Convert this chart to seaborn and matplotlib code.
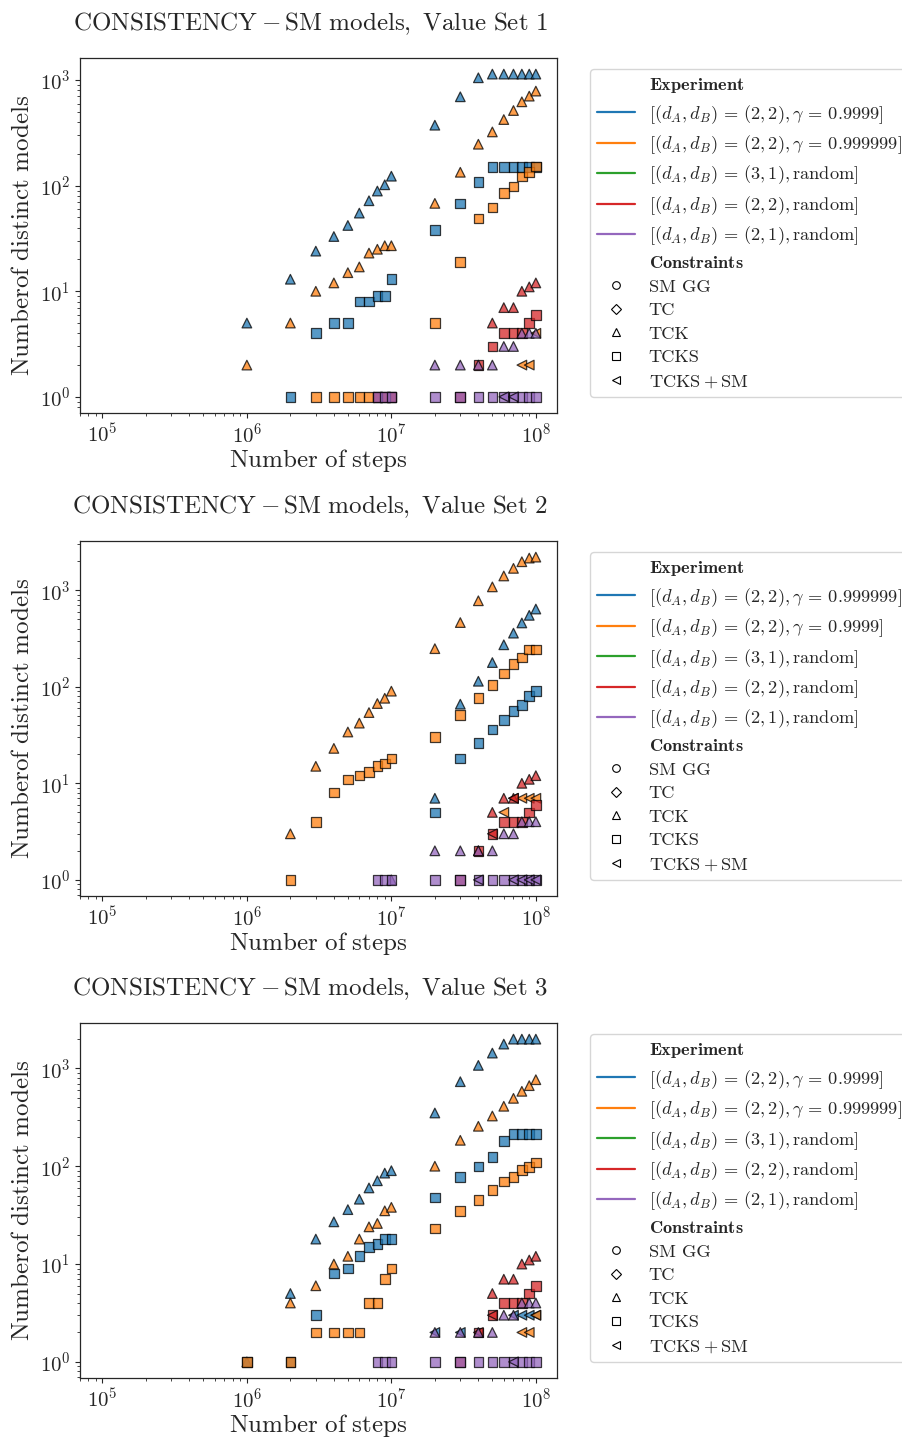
import numpy as np
import pandas as pd
import matplotlib
matplotlib.use("Agg")
import matplotlib.pyplot as plt
from matplotlib.lines import Line2D
import seaborn as sns

N = np.nan

# ---------------- data ----------------
STEPS = [1e6, 2e6, 3e6, 4e6, 5e6, 6e6, 7e6, 8e6, 9e6, 1e7,
         2e7, 3e7, 4e7, 5e7, 6e7, 7e7, 8e7, 9e7, 1e8]

EXP_G4 = r"$[(d_A, d_B)\,=\,(2, 2), \gamma\,=\,0.9999]$"
EXP_G6 = r"$[(d_A, d_B)\,=\,(2, 2), \gamma\,=\,0.999999]$"
EXP_31 = r"$[(d_A, d_B)\,=\,(3, 1), \mathrm{random}]$"
EXP_22 = r"$[(d_A, d_B)\,=\,(2, 2), \mathrm{random}]$"
EXP_21 = r"$[(d_A, d_B)\,=\,(2, 1), \mathrm{random}]$"

CONSTRAINTS = ["SM GG", "TC", "TCK", "TCKS", r"$\mathrm{TCKS + SM}$"]
C_SMGG, C_TC, C_TCK, C_TCKS, C_TCKSSM = CONSTRAINTS

TITLES = [r"$\mathrm{CONSISTENCY - SM\ models,\ Value\ Set\ 1}$",
          r"$\mathrm{CONSISTENCY - SM\ models,\ Value\ Set\ 2}$",
          r"$\mathrm{CONSISTENCY - SM\ models,\ Value\ Set\ 3}$"]

HUE_ORDER_1 = [EXP_G4, EXP_G6, EXP_31, EXP_22, EXP_21]
HUE_ORDER_2 = [EXP_G6, EXP_G4, EXP_31, EXP_22, EXP_21]
HUE_ORDER_3 = [EXP_G4, EXP_G6, EXP_31, EXP_22, EXP_21]

# Value Set 1
v1_g4_tck = [5, 13, 24, 33, 42, 55, 72, 89, 102, 123, 374, 695, 1052, 1140, 1140, 1140, 1140, 1140, 1140]
v1_g4_tcks = [N, 1, 4, 5, 5, 8, 8, 9, 9, 13, 38, 68, 108, 150, 150, 150, 150, 150, 150]
v1_g6_tck = [2, 5, 10, 12, 15, 17, 23, 25, 27, 27, 68, 134, 247, 323, 423, 515, 623, 705, 787]
v1_g6_tcks = [N, N, 1, 1, 1, 1, 1, 1, 1, 1, 5, 19, 49, 62, 85, 98, 122, 135, 152]
v1_g6_tckssm = [N, N, N, N, N, N, N, N, N, N, N, N, N, N, N, N, 2, 2, 4]
v1_22_tck = [N, N, N, N, N, N, N, N, N, N, N, N, N, 5, 7, 7, 10, 11, 12]
v1_22_tcks = [N, N, N, N, N, N, N, 1, 1, 1, N, 1, 2, 3, 4, 4, 4, 5, 6]
v1_21_tck = [N, N, N, N, N, N, N, N, N, N, 2, 2, 2, 2, 3, 3, 4, 4, 4]
v1_21_tcks = [N, N, N, N, N, N, N, 1, 1, 1, 1, 1, 1, 1, 1, 1, 1, 1, 1]
v1_21_tckssm = [N, N, N, N, N, N, N, N, N, N, N, N, N, N, 1, 1, N, N, N]

# Value Set 2
v2_g4_tck = [N, 3, 15, 23, 34, 42, 54, 67, 76, 90, 248, 462, 777, 1082, 1404, 1683, 1971, 2150, 2200]
v2_g4_tcks = [N, 1, 4, 8, 11, 12, 13, 15, 16, 18, 30, 51, 77, 104, 137, 172, 200, 244, 244]
v2_g4_tckssm = [N, N, N, N, N, N, N, N, N, N, N, N, N, N, 5, 7, 7, 7, 7]
v2_g6_tck = [N, N, N, N, N, N, N, N, N, N, 7, 66, 114, 178, 272, 359, 458, 549, 638]
v2_g6_tcks = [N, N, N, N, N, N, N, N, N, N, 5, 18, 26, 36, 45, 56, 65, 80, 91]
v2_22_tck = [N, N, N, N, N, N, N, N, N, N, N, N, 2, 5, 7, 7, 10, 11, 12]
v2_22_tcks = [N, N, N, N, N, N, N, N, N, N, N, 1, 2, 3, 4, 4, 4, 5, 6]
v2_22_tckssm = [N, N, N, N, N, N, N, N, N, N, N, N, N, 3, N, 7, N, N, N]
v2_21_tck = [N, N, N, N, N, N, N, N, N, 1, 2, 2, 2, 2, 3, 3, 4, 4, 4]
v2_21_tcks = [N, N, N, N, N, N, N, 1, 1, 1, 1, 1, 1, 1, 1, 1, 1, 1, 1]
v2_21_tckssm = [N, N, N, N, N, N, N, N, N, N, N, N, 1, N, N, 1, 1, 1, 1]

# Value Set 3
v3_g4_tck = [1, 5, 18, 27, 36, 46, 60, 71, 85, 90, 350, 731, 1073, 1433, 1771, 1990, 1990, 1990, 1990]
v3_g4_tcks = [1, 1, 3, 8, 9, 12, 15, 16, 18, 18, 48, 78, 99, 125, 180, 214, 214, 214, 214]
v3_g4_tckssm = [N, N, N, N, N, N, N, N, N, N, 2, 2, N, N, N, 3, 3, 3, 3]
v3_g6_tck = [N, 4, 6, 10, 12, 18, 24, 26, 35, 38, 100, 184, 256, 326, 410, 494, 583, 666, 766]
v3_g6_tcks = [1, 1, 2, 2, 2, 2, 4, 4, 7, 9, 23, 35, 45, 57, 70, 78, 91, 98, 109]
v3_g6_tckssm = [N, N, N, N, N, N, N, N, N, N, N, N, N, N, N, N, 2, 2, 3]
v3_22_tck = [N, N, N, N, N, N, N, N, N, N, N, N, N, 5, 7, 7, 10, 11, 12]
v3_22_tcks = [N, N, N, N, N, N, N, N, N, N, N, 1, 2, 3, 4, 4, 4, 5, 6]
v3_22_tckssm = [N, N, N, N, N, N, N, N, N, N, N, N, 2, 3, N, N, N, N, N]
v3_21_tck = [N, N, N, N, N, N, N, N, N, N, 2, 2, 2, 2, 3, 3, 4, 4, 4]
v3_21_tcks = [N, N, N, N, N, N, N, 1, 1, 1, 1, 1, 1, 1, 1, 1, 1, 1, 1]
v3_21_tckssm = [N, N, N, N, N, N, N, N, N, N, N, N, N, N, N, 1, N, N, N]

SERIES_1 = [(EXP_G4, C_TCK, v1_g4_tck), (EXP_G4, C_TCKS, v1_g4_tcks),
            (EXP_G6, C_TCK, v1_g6_tck), (EXP_G6, C_TCKS, v1_g6_tcks), (EXP_G6, C_TCKSSM, v1_g6_tckssm),
            (EXP_22, C_TCK, v1_22_tck), (EXP_22, C_TCKS, v1_22_tcks),
            (EXP_21, C_TCK, v1_21_tck), (EXP_21, C_TCKS, v1_21_tcks), (EXP_21, C_TCKSSM, v1_21_tckssm)]
SERIES_2 = [(EXP_G6, C_TCK, v2_g6_tck), (EXP_G6, C_TCKS, v2_g6_tcks),
            (EXP_G4, C_TCK, v2_g4_tck), (EXP_G4, C_TCKS, v2_g4_tcks), (EXP_G4, C_TCKSSM, v2_g4_tckssm),
            (EXP_22, C_TCK, v2_22_tck), (EXP_22, C_TCKS, v2_22_tcks), (EXP_22, C_TCKSSM, v2_22_tckssm),
            (EXP_21, C_TCK, v2_21_tck), (EXP_21, C_TCKS, v2_21_tcks), (EXP_21, C_TCKSSM, v2_21_tckssm)]
SERIES_3 = [(EXP_G4, C_TCK, v3_g4_tck), (EXP_G4, C_TCKS, v3_g4_tcks), (EXP_G4, C_TCKSSM, v3_g4_tckssm),
            (EXP_G6, C_TCK, v3_g6_tck), (EXP_G6, C_TCKS, v3_g6_tcks), (EXP_G6, C_TCKSSM, v3_g6_tckssm),
            (EXP_22, C_TCK, v3_22_tck), (EXP_22, C_TCKS, v3_22_tcks), (EXP_22, C_TCKSSM, v3_22_tckssm),
            (EXP_21, C_TCK, v3_21_tck), (EXP_21, C_TCKS, v3_21_tcks), (EXP_21, C_TCKSSM, v3_21_tckssm)]

# ---------------- style ----------------
sns.set_style("ticks")
plt.rcParams.update({
    "font.family": "serif",
    "font.serif": ["cmr10", "DejaVu Serif"],
    "mathtext.fontset": "cm",
    "axes.formatter.use_mathtext": True,
    "axes.unicode_minus": False,
    "xtick.major.size": 3.5, "ytick.major.size": 3.5,
    "xtick.minor.size": 2.0, "ytick.minor.size": 2.0,
    "xtick.major.width": 0.8, "ytick.major.width": 0.8,
    "xtick.minor.width": 0.6, "ytick.minor.width": 0.6,
    "axes.linewidth": 0.9,
})

PALETTE = sns.color_palette("tab10", 5)
MARKERS = {C_SMGG: "o", C_TC: "D", C_TCK: "^", C_TCKS: "s", C_TCKSSM: "<"}

fig = plt.figure(figsize=(9.03, 14.38), dpi=100)
ax_bottoms = [0.7128, 0.3769, 0.0417]
panels = [(SERIES_1, HUE_ORDER_1), (SERIES_2, HUE_ORDER_2), (SERIES_3, HUE_ORDER_3)]

for i, ((series, hue_order), bottom) in enumerate(zip(panels, ax_bottoms)):
    ax = fig.add_axes([0.0886, bottom, 0.5282, 0.2469])
    rows = []
    for exp in hue_order:
        for exp_s, con, vals in series:
            if exp_s != exp:
                continue
            for x, y in zip(STEPS, vals):
                if not np.isnan(y):
                    rows.append({"steps": x, "count": y, "Experiment": exp, "Constraints": con})
    df = pd.DataFrame(rows)
    sns.scatterplot(data=df, x="steps", y="count", hue="Experiment", style="Constraints",
                    hue_order=hue_order, style_order=CONSTRAINTS, palette=PALETTE,
                    markers=MARKERS, s=48, alpha=0.75, edgecolor="black", linewidth=0.9,
                    legend=False, ax=ax)
    ax.set_xscale("log")
    ax.set_yscale("log")
    ax.set_xlim(7e4, 1.4e8)
    ax.set_title(TITLES[i], fontsize=18, pad=20, x=0.482)
    ax.set_xlabel(r"$\mathrm{Number\ of\ steps}$", fontsize=18, labelpad=0)
    ax.set_ylabel(r"$\mathrm{Number of\ distinct\ models}$", fontsize=18, labelpad=4)
    ax.tick_params(axis="both", which="major", labelsize=15)

    handles = [Line2D([], [], alpha=0)]
    labels = [r"$\mathbf{Experiment}$"]
    for j, exp in enumerate(hue_order):
        handles.append(Line2D([], [], color=PALETTE[j], lw=1.6))
        labels.append(exp)
    handles.append(Line2D([], [], alpha=0))
    labels.append(r"$\mathbf{Constraints}$")
    for con in CONSTRAINTS:
        handles.append(Line2D([], [], ls="", marker=MARKERS[con], mfc="white",
                              mec="black", ms=5.5, mew=0.8))
        labels.append(con)
    ax.legend(handles, labels, loc="upper left", bbox_to_anchor=(1.05, 0.995),
              fontsize=13.2, frameon=True, handlelength=2.05, labelspacing=0.42,
              handletextpad=0.75)

fig.savefig("out.png", dpi=100)
